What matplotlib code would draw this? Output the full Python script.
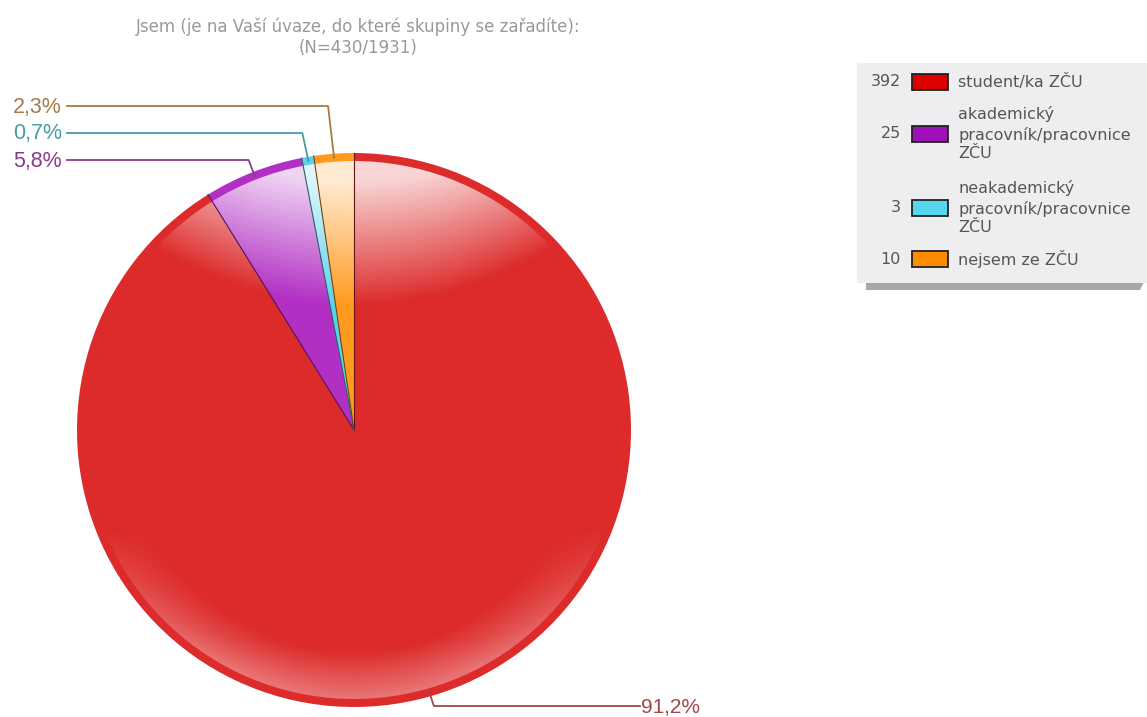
import numpy as np
import matplotlib
matplotlib.use("Agg")
import matplotlib.pyplot as plt
from matplotlib.patches import Wedge, Rectangle, Polygon

plt.rcParams['font.family'] = ['Liberation Sans', 'DejaVu Sans']

# data
title = "Jsem (je na Vaší úvaze, do které skupiny se zařadíte):\n(N=430/1931)"
labels = ["student/ka ZČU", "akademický\npracovník/pracovnice\nZČU",
          "neakademický\npracovník/pracovnice\nZČU", "nejsem ze ZČU"]
counts = [392, 25, 3, 10]
pct_labels = ["91,2%", "5,8%", "0,7%", "2,3%"]
colors = ["#dd2a2a", "#b22fc4", "#5ad3ea", "#ff9a1f"]
swatch_colors = ["#dd0000", "#a010b8", "#55d5ee", "#ff8c00"]
line_colors = ["#a04848", "#8a3a8a", "#4a9aa8", "#a87a48"]

W, H = 1147, 717
fig = plt.figure(figsize=(W / 100, H / 100), dpi=100)
ax = fig.add_axes([0, 0, 1, 1])

cx, cy, R = 354, H - 430, 277
rim = 8

# outer rim: solid colours
wedges, _ = ax.pie(counts, colors=colors, startangle=90, counterclock=False,
                   center=(cx, cy), radius=R, frame=True,
                   wedgeprops=dict(linewidth=0))

# glossy shading inside the rim
n = 300
u, v = np.meshgrid(np.linspace(-1, 1, n), np.linspace(1, -1, n))
r = np.hypot(u, v)
light_top = np.clip((v - 0.45 - 0.4 * u ** 2) / 0.45, 0, 1) * 0.8
light_bot = np.clip((r - 0.8) / 0.17, 0, 1) * np.clip((-v - 0.35) / 0.5, 0, 1) * 0.35
light = np.maximum(light_top, light_bot)
for w, c in zip(wedges, colors):
    rgb = np.array(matplotlib.colors.to_rgb(c))
    img = rgb[None, None, :] * (1 - light[..., None]) + light[..., None]
    inner = Wedge((cx, cy), R - rim, w.theta1, w.theta2, facecolor="none", edgecolor="none")
    ax.add_patch(inner)
    im = ax.imshow(img, extent=(cx - R, cx + R, cy - R, cy + R), aspect="auto",
                   interpolation="bilinear", zorder=2)
    im.set_clip_path(inner)
    # thin separator at the slice start
    a = np.deg2rad(w.theta2)
    ax.plot([cx, cx + R * np.cos(a)], [cy, cy + R * np.sin(a)],
            color=rgb * 0.45, lw=0.8, zorder=3)

# percentage labels with leader lines
label_pos = [(640, H - 706), (62, H - 160), (62, H - 133), (62, H - 106)]
for w, lab, lc, (lx, ly) in zip(wedges, pct_labels, line_colors, label_pos):
    mid = np.deg2rad((w.theta1 + w.theta2) / 2)
    px, py = cx + (R - 4) * np.cos(mid), cy + (R - 4) * np.sin(mid)
    if lx > cx:
        ax.plot([px, px + 5, lx], [py + 2, ly, ly], color=lc, lw=1.3, zorder=4)
        ax.text(lx + 1, ly - 1, lab, color=lc, fontsize=15, va="center", ha="left")
    else:
        ax.plot([px, px - 6, lx + 5], [py, ly, ly], color=lc, lw=1.3, zorder=4)
        ax.text(lx, ly - 1, lab, color=lc, fontsize=15.5, va="center", ha="right")

# title
ax.text(358, H - 37, title, color="#999999", fontsize=12, ha="center", va="center",
        linespacing=1.2, family="DejaVu Sans")

# legend box with shadow
ax.add_patch(Polygon([(866, H - 290), (1140, H - 290), (1147, H - 276), (1147, H - 283),
                      (866, H - 283)], closed=True, facecolor="#a8a8a8",
                     edgecolor="none", zorder=5))
ax.add_patch(Rectangle((857, H - 283), 292, 220, facecolor="#eeeef0", edgecolor="none", zorder=6))
rows_y = [H - 82, H - 134, H - 208, H - 259]
for cnt, lab, sc, ry in zip(counts, labels, swatch_colors, rows_y):
    ax.text(901, ry, str(cnt), fontsize=11.5, color="#555555", ha="right", va="center",
            zorder=7, family="DejaVu Sans")
    ax.add_patch(Rectangle((912, ry - 8), 36, 16, facecolor=sc, edgecolor="#222222",
                           linewidth=1.3, zorder=7))
    ax.text(958, ry, lab, fontsize=11.5, color="#555555", ha="left", va="center",
            linespacing=1.32, zorder=7, family="DejaVu Sans")

ax.set_xlim(0, W)
ax.set_ylim(0, H)
ax.axis("off")
fig.savefig("out.png", dpi=100)
